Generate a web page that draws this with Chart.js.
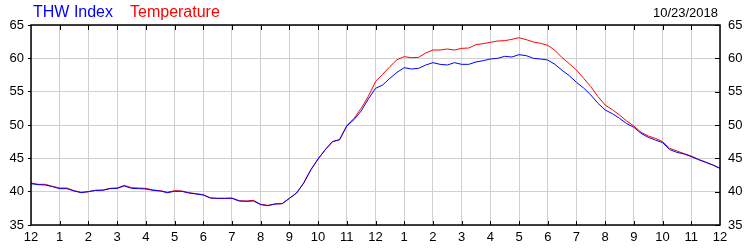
<!DOCTYPE html>
<html>
<head>
<meta charset="utf-8">
<script src="https://cdn.jsdelivr.net/npm/chart.js@4/dist/chart.umd.min.js"></script>
<style>
  html, body { margin: 0; padding: 0; background: #fff; }
  #wrap { position: relative; width: 750px; height: 250px; overflow: hidden; }
  canvas { position: absolute; left: 0; top: 0; }
  .hdr { position: absolute; font-family: "Liberation Sans", Arial, sans-serif; white-space: nowrap; line-height: normal; }
</style>
</head>
<body>
<div id="wrap">
  <canvas id="c" width="750" height="250"></canvas>
  <div class="hdr" style="left:33px; top:3px; font-size:16px; color:#0000ff;">THW Index</div>
  <div class="hdr" style="left:130px; top:3px; font-size:16px; color:#ff0000;">Temperature</div>
  <div class="hdr" style="right:32px; top:5px; font-size:13px; color:#000;">10/23/2018</div>
</div>
<script>
// Sampling interval of the readings (hours)
const SAMPLE_STEP_HOURS = 0.25;

// Hour tick labels (0..24)
const hourLabels = ["12","1","2","3","4","5","6","7","8","9","10","11","12","1","2","3","4","5","6","7","8","9","10","11","12"];

// Y axis ticks
const yTicks = [35, 40, 45, 50, 55, 60, 65];

// THW Index readings (every 15 min from midnight)
const thwIndex = [
  41.2, 41.05, 41.0, 40.75, 40.45, 40.45, 40.1, 39.85,
  40.0, 40.2, 40.2, 40.45, 40.5, 40.85, 40.5, 40.45,
  40.4, 40.2, 40.1, 39.85, 40.05, 40.05, 39.8, 39.65,
  39.5, 39.05, 39.0, 39.0, 39.0, 38.6, 38.55, 38.6,
  38.05, 37.9, 38.15, 38.2, 39.0, 39.8, 41.3, 43.3,
  44.9, 46.3, 47.5, 47.8, 49.85, 50.8, 52.1, 53.9,
  55.5, 56.0, 57.0, 57.9, 58.6, 58.4, 58.5, 59.0,
  59.35, 59.1, 59.0, 59.35, 59.1, 59.1, 59.45, 59.65,
  59.9, 60.0, 60.3, 60.2, 60.55, 60.4, 60.0, 59.9,
  59.75, 59.1, 58.2, 57.4, 56.4, 55.55, 54.5, 53.25,
  52.25, 51.7, 51.0, 50.2, 49.65, 48.75, 48.15, 47.75,
  47.35, 46.3, 45.9, 45.65, 45.25, 44.8, 44.4, 44.0,
  43.5
];

// Temperature readings (every 15 min from midnight)
const temperature = [
  41.3, 41.1, 41.1, 40.8, 40.55, 40.55, 40.15, 39.9,
  40.0, 40.2, 40.25, 40.5, 40.55, 40.95, 40.6, 40.55,
  40.5, 40.25, 40.15, 39.9, 40.15, 40.1, 39.85, 39.7,
  39.55, 39.05, 39.0, 39.0, 39.05, 38.65, 38.6, 38.7,
  38.1, 37.95, 38.15, 38.2, 39.0, 39.8, 41.3, 43.3,
  44.9, 46.3, 47.5, 47.8, 49.9, 51.0, 52.5, 54.3,
  56.5, 57.6, 58.75, 59.8, 60.25, 60.1, 60.15, 60.8,
  61.25, 61.25, 61.4, 61.25, 61.5, 61.55, 62.05, 62.2,
  62.4, 62.6, 62.65, 62.85, 63.1, 62.8, 62.45, 62.25,
  61.95, 61.2, 60.1, 59.2, 58.25, 57.0, 55.75, 54.25,
  53.0, 52.3, 51.5, 50.6, 49.85, 48.9, 48.35, 48.0,
  47.5, 46.5, 46.1, 45.7, 45.35, 44.85, 44.45, 44.0,
  43.5
];

const toPoints = arr => arr.map((v, i) => ({ x: i * SAMPLE_STEP_HOURS, y: v }));

const FONT = { family: "'Liberation Sans', Arial, sans-serif", size: 13 };

const frame = {
  id: 'frame',
  afterDatasetsDraw(chart) {
    const { ctx, chartArea: a, scales } = chart;
    ctx.save();
    ctx.strokeStyle = '#000';
    ctx.lineWidth = 1;
    ctx.beginPath();
    // inward x ticks top & bottom
    for (let h = 1; h < hourLabels.length - 1; h++) {
      const x = Math.round(scales.x.getPixelForValue(h)) + 0.5;
      ctx.moveTo(x, a.top); ctx.lineTo(x, a.top + 5);
      ctx.moveTo(x, a.bottom); ctx.lineTo(x, a.bottom - 4);
    }
    // inward right ticks
    yTicks.forEach(v => {
      const y = Math.round(scales.y.getPixelForValue(v)) + 0.5;
      ctx.moveTo(a.right, y); ctx.lineTo(a.right - 5, y);
    });
    ctx.stroke();
    ctx.lineWidth = 1.5;
    ctx.strokeRect(a.left, a.top, a.right - a.left, a.bottom - a.top);
    ctx.restore();
  }
};

new Chart(document.getElementById('c'), {
  type: 'line',
  data: {
    datasets: [
      { label: 'THW Index', data: toPoints(thwIndex), borderColor: '#0000ff', borderWidth: 1, pointRadius: 0, tension: 0 },
      { label: 'Temperature', data: toPoints(temperature), borderColor: '#ff0000', borderWidth: 1, pointRadius: 0, tension: 0 }
    ]
  },
  options: {
    responsive: false,
    animation: false,
    events: [],
    layout: { padding: { top: 25, left: 0, right: 0, bottom: 0 } },
    plugins: { legend: { display: false }, tooltip: { enabled: false }, title: { display: false } },
    scales: {
      x: {
        type: 'linear', min: 0, max: 24,
        afterFit(s) { s.height = 25; },
        afterBuildTicks(s) { s.ticks = hourLabels.map((_, i) => ({ value: i })); },
        ticks: { autoSkip: false, maxRotation: 0, padding: 5, color: '#000', font: FONT,
                 callback: (v) => hourLabels[v] },
        grid: { color: '#d0d0d0', lineWidth: 1, drawTicks: false },
        border: { display: false }
      },
      y: {
        position: 'left', min: 35, max: 65,
        afterFit(s) { s.width = 31; },
        afterBuildTicks(s) { s.ticks = yTicks.map(v => ({ value: v })); },
        ticks: { padding: 4, color: '#000', font: FONT },
        grid: { color: '#d0d0d0', lineWidth: 1, tickColor: '#000', tickLength: 3 },
        border: { display: false }
      },
      y2: {
        position: 'right', min: 35, max: 65,
        afterFit(s) { s.width = 30; },
        afterBuildTicks(s) { s.ticks = yTicks.map(v => ({ value: v })); },
        ticks: { padding: 8, color: '#000', font: FONT },
        grid: { display: false, drawTicks: false },
        border: { display: false }
      }
    }
  },
  plugins: [frame]
});
</script>
</body>
</html>
